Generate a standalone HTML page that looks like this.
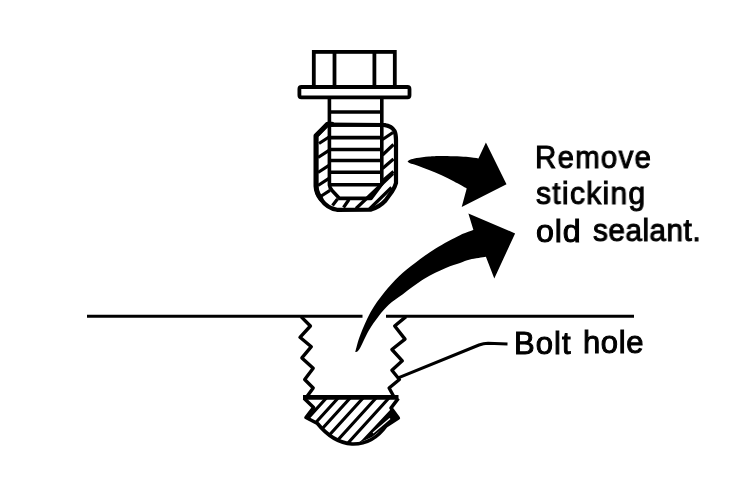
<!DOCTYPE html>
<html><head><meta charset="utf-8">
<style>
html,body{margin:0;padding:0;background:#fff;}
body{width:736px;height:479px;overflow:hidden;position:relative;}
svg{position:absolute;left:0;top:0;}
.t{position:absolute;font-family:"Liberation Sans",sans-serif;font-weight:normal;font-size:31px;line-height:30px;color:#000;white-space:nowrap;-webkit-text-stroke:1px #000;will-change:transform;transform-origin:0 0;}
</style></head>
<body>
<svg width="736" height="479" viewBox="0 0 736 479">
<defs>
  <clipPath id="holeClip">
    <path d="M304,398.3 L313.6,407.5 L306,417.5 L317.5,423.5 C326,434 338,443 352,444 C366,444.5 378,437 386,426 L398.3,418 L391,408 L398.3,398.3 Z"/>
  </clipPath>
</defs>
<g fill="none" stroke="#000" stroke-linejoin="miter" stroke-linecap="butt">
  <!-- hex head -->
  <rect x="313.8" y="51.9" width="81" height="35" stroke-width="3.8"/>
  <line x1="334.5" y1="52" x2="334.5" y2="87" stroke-width="3.8"/>
  <line x1="374.4" y1="52" x2="374.4" y2="87" stroke-width="3.8"/>
  <!-- flange -->
  <rect x="299.4" y="87" width="110.1" height="10.3" rx="2" stroke-width="3.8"/>

  <!-- sealant hatching -->
  <g stroke-width="3.2">
    <path d="M319,143.5 L329,137 M318,157.5 L329,150.3 M318,172.5 L329,165.3 M318,185.5 L329,178.3 M320.5,196.5 L330,190.3
             M332.5,205.5 L337.5,199 M343.5,207.5 L349,199.5
             M382.5,139.5 L393,132.5 M382.5,155 L393.5,144.5 M382.5,168.5 L393.5,159 M383,180.5 L393.5,171.5
             M356,208.5 L393,173.5 M369.5,209 L391.5,187.5"/>
  </g>
  <!-- thick bottom-right fill -->
  
  <!-- shank -->
  <path d="M329.4,98 L329.4,185 Q329.8,188.5 332.5,191 L339.5,198.4 L371,198.4 L381.8,184 L381.8,98" stroke-width="3.6" stroke-linejoin="round"/>
  <!-- threads -->
  <g stroke-width="3.6">
    <line x1="329" y1="112" x2="382" y2="112"/>
    <line x1="327" y1="125" x2="386" y2="125"/>
    <line x1="329" y1="137.6" x2="382" y2="137.6"/>
    <line x1="329" y1="149.5" x2="382" y2="149.5"/>
    <line x1="329" y1="160.5" x2="382" y2="160.5"/>
    <line x1="329" y1="172.3" x2="382" y2="172.3"/>
    <line x1="329" y1="184.8" x2="382" y2="184.8"/>
  </g>
  <!-- sealant outline -->
  <path d="M384,125 Q392,126 394.5,131 Q396,134 396,140 L396,183 Q395,187 392,191.5 L385.5,200.5 Q380,206.5 371,209.6 L337,209.8 Q327,208 321.5,200 Q316.2,193 316.2,186 L316.2,136 L327,124.5 Z" stroke-width="4.2"/>
  <path d="M321,199 Q316.4,193 316,186 L316,135.8 L327.5,124.2 L332,124.2" stroke-width="5" stroke-linejoin="round" stroke-linecap="round"/>

  <!-- ground line -->
  <line x1="87" y1="316.2" x2="362.5" y2="316.2" stroke-width="3"/>
  <line x1="386" y1="316.2" x2="634" y2="316.2" stroke-width="3"/>

  <!-- zigzags -->
  <polyline points="301,316.6 310.4,326 300,337.3 311.3,346.7 301.9,357.9 313.2,368.3 304.7,379.5 313.2,388 305.7,398.3" stroke-width="3.4" stroke-linejoin="round"/>
  <polyline points="406,316.6 394.7,326 405,339.1 391.9,349.5 402.3,360.8 391.9,370.2 399.4,379.5 389.1,388 393.8,396.5" stroke-width="3.4" stroke-linejoin="round"/>

  <!-- hole bottom hatch -->
  <g clip-path="url(#holeClip)" stroke-width="3.1">
    <path d="M331.8,392.0 L271.8,458.0 M343.6,392.0 L283.6,458.0 M355.6,392.0 L295.6,458.0 M368.5,392.0 L308.5,458.0 M381.5,392.0 L321.5,458.0 M394.4,392.0 L334.4,458.0"/>
  </g>
  <path d="M304,398.3 L313.6,407.5 L306,417.5 L317.5,423.5 C326,434 338,443 352,444 C366,444.5 378,437 386,426 L398.3,418 L391,408 L398.3,398.3" stroke-width="3.6" stroke-linejoin="round"/>
  <path d="M391,409 L362.6,439.3 L358.6,443 L372.1,437 L385.7,426 L398.6,418.2 Z" fill="#000" stroke="none"/>
  <line x1="390" y1="418.5" x2="373" y2="433" stroke="#fff" stroke-width="1.3"/>
  <line x1="303" y1="397.4" x2="398.5" y2="397.4" stroke-width="4.6"/>

  <!-- leader -->
  <path d="M397,378.3 L479,345 Q483.5,343.3 488,343.3 L507.5,344" stroke-width="3"/>
</g>

<!-- arrows -->
<g fill="#000" stroke="none">
  <path d="M407.5,161.5 C407.9,161.2 408.5,160.4 410.0,159.8 C411.5,159.2 413.3,158.6 416.5,158.0 C419.7,157.4 424.8,156.8 429.0,156.4 C433.2,156.1 435.4,155.9 441.6,155.9 C447.8,155.9 459.9,156.3 466.0,156.7 C472.1,157.1 476.3,158.1 478.4,158.4 L485.9,142.5 L506.5,184.3 L461.7,206.9 L466.7,188.5 C464.6,187.3 458.3,183.8 454.1,181.6 C449.9,179.4 445.8,177.1 441.6,175.2 C437.4,173.3 433.2,171.8 429.0,170.1 C424.8,168.4 419.7,166.3 416.5,165.2 C413.3,164.1 411.5,163.9 410.0,163.3 C408.5,162.7 407.9,161.8 407.5,161.5 Z"/>
  <path d="M355.2,352.2 C356.0,349.4 357.6,341.9 360.2,335.2 C362.8,328.5 366.5,319.3 370.5,312.2 C374.5,305.1 379.6,298.3 384.4,292.3 C389.1,286.3 393.9,281.1 399.0,276.2 C404.1,271.3 409.0,267.6 415.1,263.0 C421.2,258.4 428.1,253.0 435.6,248.4 C443.1,243.8 453.7,238.3 460.0,235.2 C466.3,232.1 471.2,230.9 473.4,230.0 L468.4,213.4 L515.1,233.4 L494.3,278.5 L485.9,256.8 C483.2,257.2 474.3,258.5 470.0,259.5 C465.7,260.5 464.0,261.6 460.0,263.0 C456.0,264.4 451.8,265.4 445.8,268.1 C439.8,270.8 431.1,274.7 423.9,279.1 C416.7,283.5 408.3,290.3 402.5,294.5 C396.7,298.7 392.9,300.9 389.0,304.5 C385.1,308.1 382.2,311.6 378.8,316.0 C375.4,320.4 371.7,325.5 368.5,331.0 C365.3,336.5 361.7,345.5 359.5,349.0 C357.3,352.5 355.9,351.7 355.2,352.2 Z"/>
</g>
</svg>

<div class="t" style="left:534.6px;top:143px;letter-spacing:1.3px;transform:scaleX(0.95);">Remove</div>
<div class="t" style="left:535.8px;top:179px;letter-spacing:1.3px;transform:scaleX(0.97);">sticking</div>
<div class="t" style="left:535.8px;top:217px;letter-spacing:0.85px;transform:scaleX(1.04);">old</div>
<div class="t" style="left:592.8px;top:216px;letter-spacing:0.49px;transform:scaleX(0.96);">sealant.</div>
<div class="t" style="left:513.8px;top:329px;letter-spacing:1.06px;transform:scaleX(1.0);">Bolt</div>
<div class="t" style="left:583.2px;top:328px;letter-spacing:0.59px;transform:scaleX(1.0);">hole</div>
</body></html>
